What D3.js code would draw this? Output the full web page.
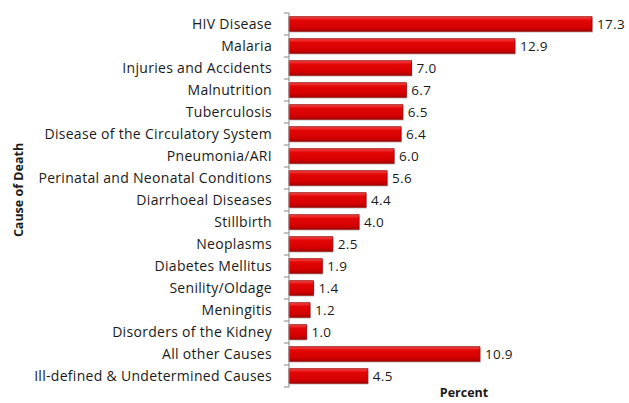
<!DOCTYPE html>
<meta charset="utf-8">
<script src="https://d3js.org/d3.v7.min.js"></script>
<style>
  body { margin: 0; background: #fff; }
  text { font-family: "Open Sans", "Liberation Sans", sans-serif; fill: #1a1a1a; }
</style>
<div id="chart"></div>
<script>
  // categories and values, top to bottom
  var causes = ["HIV Disease", "Malaria", "Injuries and Accidents", "Malnutrition", "Tuberculosis",
    "Disease of the Circulatory System", "Pneumonia/ARI", "Perinatal and Neonatal Conditions",
    "Diarrhoeal Diseases", "Stillbirth", "Neoplasms", "Diabetes Mellitus", "Senility/Oldage",
    "Meningitis", "Disorders of the Kidney", "All other Causes", "Ill-defined & Undetermined Causes"];
  var percents = [17.3, 12.9, 7.0, 6.7, 6.5, 6.4, 6.0, 5.6, 4.4, 4.0, 2.5, 1.9, 1.4, 1.2, 1.0, 10.9, 4.5];

  var W = 629, H = 403;
  var margin = {top: 13, right: 37, bottom: 16, left: 289};

  var svg = d3.select("#chart").append("svg")
    .attr("width", W).attr("height", H);

  var defs = svg.append("defs");
  var grad = defs.append("linearGradient").attr("id", "barGrad")
    .attr("x1", 0).attr("y1", 0).attr("x2", 0).attr("y2", 1);
  grad.append("stop").attr("offset", "0%").attr("stop-color", "#f24a4a");
  grad.append("stop").attr("offset", "25%").attr("stop-color", "#e40606");
  grad.append("stop").attr("offset", "75%").attr("stop-color", "#d40000");
  grad.append("stop").attr("offset", "100%").attr("stop-color", "#a80000");

  var g = svg.append("g")
    .attr("transform", "translate(" + margin.left + "," + margin.top + ")");

  var height = H - margin.top - margin.bottom;

  var x = d3.scaleLinear().domain([0, 17.3]).range([0, 303]);
  var y = d3.scaleBand().domain(causes).range([0, height]).paddingInner(0.34).paddingOuter(0.17);

  // shadows
  g.selectAll(".shadow")
    .data(causes)
    .enter().append("rect")
      .attr("x", 1)
      .attr("y", function(d) { return y(d) + 1.5; })
      .attr("width", function(d, i) { return x(percents[i]); })
      .attr("height", y.bandwidth())
      .attr("fill", "#bbb")
      .attr("opacity", 0.6);

  // bars
  g.selectAll(".bar")
    .data(causes)
    .enter().append("rect")
      .attr("x", 0)
      .attr("y", function(d) { return y(d); })
      .attr("width", function(d, i) { return x(percents[i]); })
      .attr("height", y.bandwidth())
      .attr("fill", "url(#barGrad)")
      .attr("stroke", "#9a0000")
      .attr("stroke-width", 0.8);

  // value labels
  g.selectAll(".val")
    .data(causes)
    .enter().append("text")
      .attr("x", function(d, i) { return x(percents[i]) + 5; })
      .attr("y", function(d) { return y(d) + y.bandwidth() / 2; })
      .attr("dy", "0.36em")
      .style("font-size", "13.5px")
      .style("letter-spacing", "0.3px")
      .text(function(d, i) { return percents[i].toFixed(1); });

  // y axis with ticks at band boundaries
  var bounds = d3.range(causes.length + 1).map(function(i) { return i * (height / causes.length); });
  g.append("line")
    .attr("x1", 0).attr("x2", 0).attr("y1", 0).attr("y2", height)
    .attr("stroke", "#888").attr("stroke-width", 1);
  g.selectAll(".tick")
    .data(bounds)
    .enter().append("line")
      .attr("x1", -5).attr("x2", 0)
      .attr("y1", function(d) { return d; }).attr("y2", function(d) { return d; })
      .attr("stroke", "#888").attr("stroke-width", 1);

  // category labels
  g.selectAll(".cat")
    .data(causes)
    .enter().append("text")
      .attr("x", -17)
      .attr("y", function(d) { return y(d) + y.bandwidth() / 2; })
      .attr("dy", "0.36em")
      .attr("text-anchor", "end")
      .style("font-size", "14px")
      .style("letter-spacing", "0.3px")
      .text(function(d) { return d; });

  // axis titles
  svg.append("text")
    .attr("x", 464).attr("y", 397)
    .attr("text-anchor", "middle")
    .style("font-size", "12.5px").style("font-weight", "bold")
    .text("Percent");

  svg.append("text")
    .attr("transform", "translate(23,190) rotate(-90)")
    .attr("text-anchor", "middle")
    .style("font-size", "12.5px").style("font-weight", "bold")
    .text("Cause of Death");
</script>
